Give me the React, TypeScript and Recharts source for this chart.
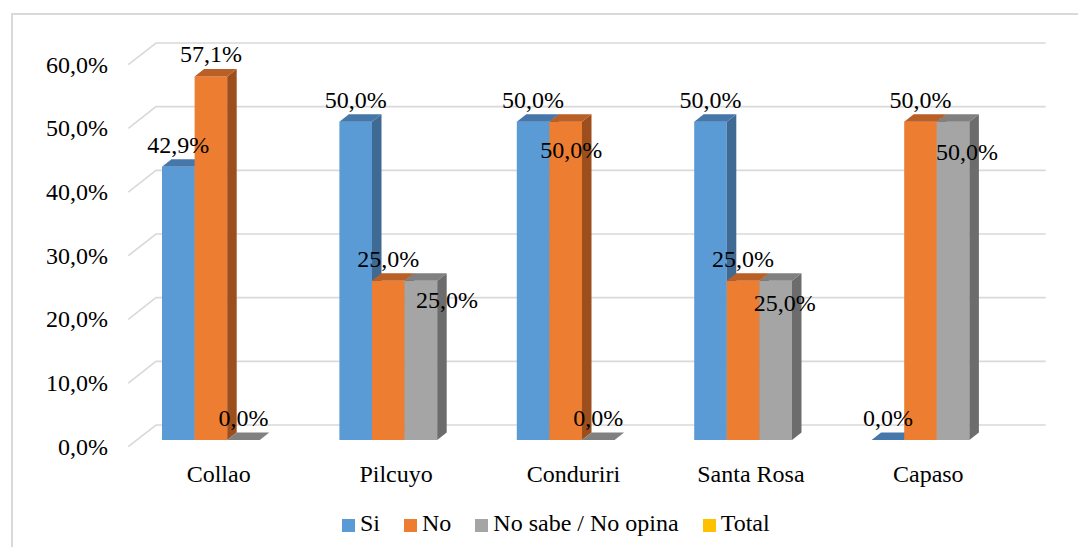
import React from 'react';
import { BarChart, Bar, XAxis, YAxis, CartesianGrid, Legend, LabelList } from 'recharts';

const categories = ['Collao', 'Pilcuyo', 'Conduriri', 'Santa Rosa', 'Capaso'];
const siValues = [42.9, 50.0, 50.0, 50.0, 0.0];
const noValues = [57.1, 25.0, 50.0, 25.0, 50.0];
const nsnoValues = [0.0, 25.0, 0.0, 25.0, 50.0];
const yTicks = [0, 10, 20, 30, 40, 50, 60];
const legendNames = ['Si', 'No', 'No sabe / No opina', 'Total'];

const data = categories.map((c, i) => ({
  name: c,
  si: siValues[i],
  no: noValues[i],
  nsno: nsnoValues[i],
}));

const FONT = '"Liberation Serif", "Times New Roman", serif';
const DX = 9.5;
const DY = 7.5;

const palette: Record<string, { front: string; top: string; side: string }> = {
  si: { front: '#5B9BD5', top: '#4677AB', side: '#3E6A94' },
  no: { front: '#ED7D31', top: '#BA5F25', side: '#9C4E1D' },
  nsno: { front: '#A5A5A5', top: '#808080', side: '#6C6C6C' },
  total: { front: '#FFC000', top: '#FFC000', side: '#FFC000' },
};
const legendColors = [palette.si.front, palette.no.front, palette.nsno.front, palette.total.front];

// label displacement (Excel's collision avoidance), keyed series-index
const labelShift: Record<string, [number, number]> = {
  'nsno-1': [26, 41],
  'no-2': [5.5, 50],
  'nsno-3': [9, 44],
  'nsno-4': [14, 52],
};

const makeShape = (key: string) => (props: any) => {
  const { x, y, width, height } = props;
  const c = palette[key];
  const h = Math.max(0, height || 0);
  return (
    <g>
      {h > 0 && <rect x={x} y={y} width={width} height={h} fill={c.front} />}
      {h > 0 && (
        <polygon
          points={`${x + width},${y} ${x + width + DX},${y - DY} ${x + width + DX},${y + h - DY} ${x + width},${y + h}`}
          fill={c.side}
        />
      )}
      <polygon
        points={`${x},${y} ${x + DX},${y - DY} ${x + width + DX},${y - DY} ${x + width},${y}`}
        fill={c.top}
      />
    </g>
  );
};

const makeLabel = (key: string) => (props: any) => {
  const { x, y, width, value, index } = props;
  const sh = labelShift[`${key}-${index}`] || [0, 0];
  const txt = Number(value).toFixed(1).replace('.', ',') + '%';
  return (
    <text
      x={x + width / 2 + sh[0]}
      y={y - 14 + sh[1]}
      textAnchor="middle"
      fontFamily={FONT}
      fontSize={24}
      fill="#000"
    >
      {txt}
    </text>
  );
};

const YTick = (props: any) => {
  const { y, payload } = props;
  return (
    <text x={108} y={y + 14.5} textAnchor="end" fontFamily={FONT} fontSize={24} fill="#000">
      {Number(payload.value).toFixed(1).replace('.', ',') + '%'}
    </text>
  );
};

const XTick = (props: any) => {
  const { x, y, payload } = props;
  return (
    <text x={x + 8} y={y + 34} textAnchor="middle" fontFamily={FONT} fontSize={24} fill="#000">
      {payload.value}
    </text>
  );
};

const GridLine = (props: any) => {
  const { x1, x2, y1 } = props;
  const d = `M ${x1 + 6.3} ${y1 + 6.7} L ${x1 + 34} ${y1 - 15} L ${x2 + 36.7} ${y1 - 15}`;
  return <path key={props.key} d={d} fill="none" stroke="#D9D9D9" strokeWidth={1.6} />;
};

const LegendContent = () => (
  <div
    style={{
      display: 'flex',
      alignItems: 'center',
      height: 30,
      paddingLeft: 342,
      fontFamily: FONT,
      fontSize: 24,
      lineHeight: 1,
      color: '#000',
    }}
  >
    {legendNames.map((n, i) => (
      <div key={n} style={{ display: 'flex', alignItems: 'center', marginRight: 24 }}>
        <span
          style={{
            display: 'inline-block',
            width: 13,
            height: 13,
            background: legendColors[i],
            marginRight: 5,
            marginTop: 4,
          }}
        />
        <span>{n}</span>
      </div>
    ))}
  </div>
);

export default function App() {
  return (
    <div
      style={{
        position: 'absolute',
        left: 0,
        top: 0,
        width: 1078,
        height: 547,
        overflow: 'hidden',
        background: '#fff',
      }}
    >
      <div
        style={{
          position: 'absolute',
          left: 11,
          top: 13,
          width: 1200,
          height: 700,
          border: '2px solid #D9D9D9',
          boxSizing: 'border-box',
        }}
      />
      <div style={{ position: 'absolute', left: 0, top: 0 }}>
        <BarChart
          width={1078}
          height={547}
          data={data}
          margin={{ top: 58, right: 69, bottom: 67, left: 0 }}
          barGap={0}
          barSize={32.6}
        >
          <CartesianGrid vertical={false} horizontal={GridLine as any} />
          <XAxis
            dataKey="name"
            axisLine={false}
            tickLine={false}
            height={40}
            tick={<XTick />}
            interval={0}
          />
          <YAxis
            domain={[0, 60]}
            ticks={yTicks}
            axisLine={false}
            tickLine={false}
            width={122}
            tick={<YTick />}
            interval={0}
          />
          <Legend
            content={<LegendContent />}
            wrapperStyle={{ left: 0, top: 508, bottom: 'auto', width: 1078, height: 0, overflow: 'visible' }}
          />
          <Bar dataKey="si" name="Si" fill={palette.si.front} shape={makeShape('si')} isAnimationActive={false}>
            <LabelList dataKey="si" content={makeLabel('si')} />
          </Bar>
          <Bar dataKey="no" name="No" fill={palette.no.front} shape={makeShape('no')} isAnimationActive={false}>
            <LabelList dataKey="no" content={makeLabel('no')} />
          </Bar>
          <Bar dataKey="nsno" name="No sabe / No opina" fill={palette.nsno.front} shape={makeShape('nsno')} isAnimationActive={false}>
            <LabelList dataKey="nsno" content={makeLabel('nsno')} />
          </Bar>
        </BarChart>
      </div>
    </div>
  );
}
